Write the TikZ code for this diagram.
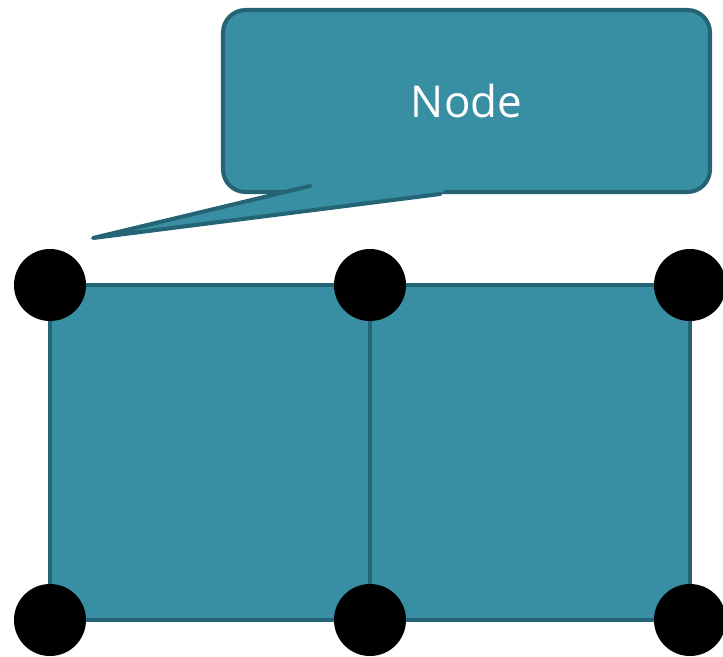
\documentclass[tikz,border=0pt]{standalone}
\usepackage{fontspec}
\setsansfont{Open Sans}
\usetikzlibrary{positioning,calc}
\definecolor{cellTeal}{RGB}{56,142,163}
\definecolor{cellEdge}{RGB}{36,100,116}
\tikzset{
    cell/.style={rectangle, draw=cellEdge, fill=cellTeal, line width=2.3pt,
                 minimum width=6.4cm, minimum height=6.7cm, inner sep=0pt, outer sep=0pt},
    vertex/.style={circle, fill=black, minimum size=1.44cm, inner sep=0pt},
    callout/.style={rectangle, rounded corners=0.45cm, draw=cellEdge, fill=cellTeal,
                 line width=2.3pt, minimum width=9.74cm, minimum height=3.64cm,
                 font=\sffamily\fontsize{25}{25}\selectfont, text=white},
    tail/.style={cellEdge, line width=2.3pt, line join=round, line cap=round}
}
\begin{document}
\begin{tikzpicture}
  \useasboundingbox (0,0) rectangle (14.46,-13.12);

  % the two cells
  \node [cell] (cellL) at (4.2,-9.05) {};
  \node [cell, right=0pt of cellL] (cellR) {};

  % callout and its tail
  \node [callout] (label) at (9.33,-2.02) {Node};
  \coordinate (tip) at (1.86,-4.76);
  \coordinate (baseL) at ($(label.south)+(-3.13,0.16)$);
  \coordinate (baseC) at ($(label.south)+(-0.33,0.16)$);
  \coordinate (baseR) at ($(label.south)+(-0.53,0)$);
  \fill [cellTeal] (tip) -- (baseL) -- (baseC) -- (baseR) -- cycle;
  \draw [tail] (baseL) -- (tip) -- (baseR);

  % corner points
  \node [vertex] (v1) at (cellL.north west) {};
  \node [vertex] (v2) at (cellL.north east) {};
  \node [vertex] (v3) at (cellR.north east) {};
  \node [vertex] (v4) at (cellL.south west) {};
  \node [vertex] (v5) at (cellL.south east) {};
  \node [vertex] (v6) at (cellR.south east) {};
\end{tikzpicture}
\end{document}
